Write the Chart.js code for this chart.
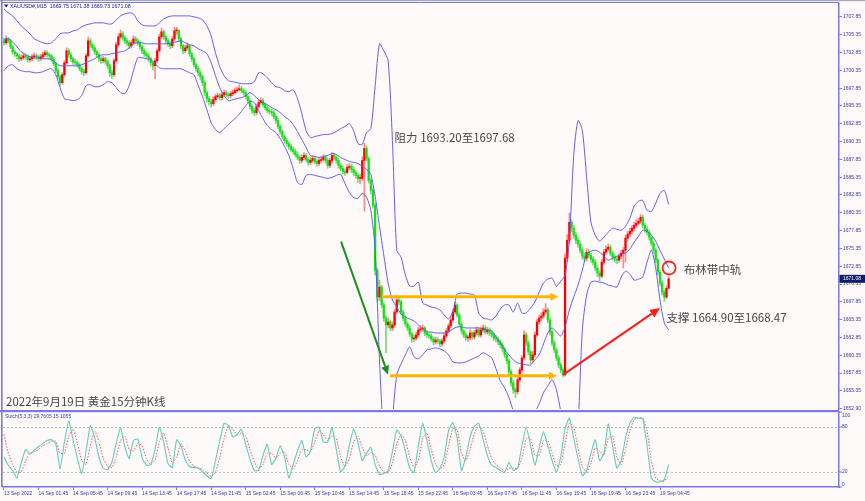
<!DOCTYPE html>
<html><head><meta charset="utf-8">
<script src="https://cdn.jsdelivr.net/npm/chart.js@4.4.1/dist/chart.umd.min.js"></script>
<style>
html,body{margin:0;padding:0;background:#fffafa;}
#wrap{position:relative;width:865px;height:501px;overflow:hidden;background:#fffafa;}
#main{position:absolute;left:0;top:0;width:865px;height:414px;}
#stoch{position:absolute;left:0;top:410px;width:865px;height:91px;}
</style></head><body>
<div id="wrap"><canvas id="main" width="865" height="414"></canvas><canvas id="stoch" width="865" height="91"></canvas></div>
<script>
// ---------------- DATA ----------------
const opens = [
1704.50,1704.22,1704.78,1704.50,1703.66,1702.96,1702.68,1702.40,1701.98,1702.12,
1702.40,1702.26,1701.84,1701.98,1702.26,1702.40,1702.26,1701.98,1702.26,1702.54,
1702.82,1702.54,1702.40,1701.98,1701.28,1700.30,1699.46,1698.62,1699.74,1701.42,
1703.10,1702.54,1701.98,1701.56,1701.42,1701.14,1700.58,1700.16,1700.02,1702.40,
1704.50,1703.94,1703.52,1702.96,1702.54,1701.98,1701.70,1701.98,1701.56,1701.00,
1700.02,1699.74,1701.70,1703.94,1705.06,1705.48,1704.92,1704.50,1704.22,1703.80,
1704.22,1704.78,1704.50,1704.22,1703.66,1703.10,1702.68,1702.40,1701.98,1701.42,
1701.00,1701.70,1703.10,1705.06,1705.76,1705.06,1704.50,1704.08,1703.80,1704.78,
1705.90,1705.90,1704.78,1703.80,1703.10,1703.52,1703.80,1702.68,1701.98,1701.14,
1700.58,1700.02,1699.46,1698.62,1697.22,1696.38,1695.96,1695.68,1696.24,1696.66,
1696.80,1696.52,1696.94,1697.22,1696.94,1696.80,1697.08,1697.22,1697.50,1697.64,
1697.78,1697.50,1697.22,1696.66,1696.10,1695.26,1694.70,1694.42,1695.26,1695.82,
1696.10,1695.54,1695.12,1694.70,1694.56,1694.42,1693.86,1693.30,1692.46,1691.76,
1691.06,1690.50,1690.08,1689.66,1689.24,1688.96,1688.54,1688.12,1687.70,1688.12,
1688.40,1687.84,1687.42,1687.70,1687.98,1687.56,1687.28,1687.70,1687.84,1688.12,
1687.70,1687.00,1687.70,1688.40,1688.12,1687.70,1687.00,1686.58,1686.16,1686.02,
1686.72,1686.86,1686.44,1686.02,1685.60,1685.18,1685.18,1687.70,1689.38,1687.98,
1684.90,1683.50,1681.40,1672.30,1668.52,1669.92,1667.40,1665.58,1664.60,1665.02,
1664.18,1664.60,1666.42,1668.10,1667.82,1666.42,1665.58,1664.74,1664.18,1663.34,
1662.64,1662.78,1663.20,1663.90,1664.04,1664.18,1663.48,1663.20,1663.06,1662.64,
1662.22,1662.50,1662.36,1661.94,1662.36,1663.06,1663.76,1664.46,1665.30,1666.42,
1667.40,1666.00,1664.74,1663.76,1663.20,1662.78,1662.78,1663.48,1662.92,1663.48,
1663.90,1663.20,1663.90,1664.18,1663.62,1663.90,1663.48,1663.20,1662.78,1662.64,
1662.22,1661.80,1661.24,1660.40,1659.56,1658.02,1656.48,1655.50,1655.22,1656.90,
1658.30,1659.98,1663.20,1662.08,1660.82,1659.70,1660.40,1663.20,1665.02,1665.58,
1665.86,1666.42,1666.70,1665.30,1663.62,1662.08,1661.10,1659.98,1659.00,1658.30,
1657.60,1673.98,1676.50,1679.02,1678.18,1677.20,1676.50,1675.94,1675.10,1674.26,
1673.98,1674.82,1674.40,1673.84,1673.42,1672.58,1671.88,1671.46,1673.42,1674.82,
1675.24,1675.52,1674.68,1674.12,1673.84,1673.70,1674.26,1674.68,1675.10,1676.78,
1677.34,1677.76,1678.18,1678.60,1678.88,1679.16,1679.72,1678.60,1678.04,1677.62,
1676.92,1676.08,1675.10,1673.70,1672.02,1670.48,1669.22,1668.52,1669.75];
const highs = [
1704.9,1705.2,1705.0,1704.7,1703.9,1703.2,1702.9,1702.6,1702.5,1702.8,
1702.7,1702.5,1702.3,1702.6,1702.8,1702.7,1702.5,1702.6,1702.9,1703.2,
1703.1,1702.8,1702.6,1702.2,1701.5,1700.6,1699.7,1700.0,1701.7,1703.5,
1703.4,1702.8,1702.2,1701.9,1701.7,1701.4,1700.9,1700.5,1702.7,1705.0,
1704.8,1704.2,1703.8,1703.2,1702.8,1702.3,1702.3,1702.2,1701.8,1701.2,
1700.4,1702.0,1704.3,1705.5,1706.0,1705.8,1705.2,1704.8,1704.5,1704.6,
1705.2,1705.1,1704.8,1704.5,1703.9,1703.4,1703.0,1702.7,1702.2,1701.7,
1702.0,1703.4,1705.4,1706.3,1706.0,1705.3,1704.8,1704.4,1705.1,1706.4,
1706.4,1706.1,1705.0,1704.0,1703.9,1704.2,1704.0,1702.9,1702.2,1701.4,
1700.9,1700.3,1699.7,1698.9,1697.5,1696.7,1696.3,1696.6,1697.0,1697.2,
1697.1,1697.3,1697.6,1697.5,1697.2,1697.4,1697.6,1697.9,1698.0,1698.3,
1698.1,1697.8,1697.5,1696.9,1696.4,1695.5,1695.0,1695.6,1696.2,1696.5,
1696.4,1695.8,1695.4,1695.0,1694.9,1694.7,1694.1,1693.6,1692.7,1692.0,
1691.3,1690.8,1690.4,1690.0,1689.6,1689.3,1688.9,1688.4,1688.5,1688.8,
1688.7,1688.1,1688.1,1688.4,1688.3,1687.9,1688.1,1688.2,1688.5,1688.4,
1688.0,1688.0,1688.8,1688.7,1688.4,1688.0,1687.3,1686.9,1686.5,1687.1,
1687.3,1687.2,1686.8,1686.3,1685.9,1685.8,1688.2,1690.1,1689.8,1688.2,
1685.2,1683.8,1681.7,1672.6,1670.9,1670.2,1667.7,1665.9,1665.6,1665.3,
1665.0,1666.8,1668.7,1668.5,1668.1,1666.7,1665.9,1665.0,1664.5,1663.6,
1663.2,1663.6,1664.3,1664.5,1664.6,1664.4,1663.8,1663.5,1663.4,1662.9,
1662.9,1662.8,1662.6,1662.7,1663.4,1664.1,1664.8,1665.6,1666.8,1667.9,
1667.6,1666.3,1665.0,1664.0,1663.5,1663.2,1663.9,1663.7,1663.8,1664.3,
1664.2,1664.3,1664.6,1664.5,1664.3,1664.2,1663.8,1663.5,1663.1,1662.9,
1662.5,1662.1,1661.5,1660.7,1659.8,1658.3,1656.8,1655.8,1657.2,1658.6,
1660.3,1663.8,1663.5,1662.4,1661.1,1660.9,1663.6,1665.4,1666.0,1666.3,
1666.9,1667.6,1667.0,1665.6,1663.9,1662.4,1661.4,1660.3,1659.3,1658.6,
1674.6,1677.3,1680.3,1679.4,1678.6,1677.6,1676.9,1676.3,1675.5,1674.7,
1675.3,1675.2,1674.7,1674.2,1673.8,1672.9,1672.2,1673.8,1675.2,1675.7,
1676.0,1675.8,1675.0,1674.5,1674.2,1674.6,1675.1,1675.5,1677.2,1677.7,
1678.2,1678.6,1679.0,1679.4,1679.6,1680.1,1680.0,1678.9,1678.4,1677.9,
1677.2,1676.4,1675.4,1674.0,1672.3,1670.8,1669.5,1670.1,1671.38];
const lows = [
1703.9,1704.0,1704.2,1703.4,1702.6,1702.3,1702.0,1701.6,1701.7,1701.9,
1701.9,1701.5,1701.5,1701.7,1702.0,1701.9,1701.6,1701.7,1702.0,1702.3,
1702.2,1702.0,1701.6,1701.0,1700.0,1699.1,1698.2,1698.4,1699.5,1701.2,
1702.2,1701.6,1701.2,1701.1,1700.8,1700.3,1699.8,1699.6,1699.8,1702.2,
1703.6,1703.2,1702.6,1702.2,1701.6,1701.3,1701.4,1701.2,1700.6,1699.5,
1699.2,1699.5,1701.5,1703.7,1704.8,1704.6,1704.1,1703.8,1703.4,1703.5,
1704.0,1704.2,1703.9,1703.3,1702.7,1702.3,1702.0,1701.6,1701.0,1700.4,
1699.2,1701.4,1702.9,1704.8,1704.7,1704.1,1703.7,1703.4,1703.5,1704.5,
1705.4,1704.4,1703.4,1702.7,1702.8,1703.2,1702.3,1701.6,1700.8,1700.2,
1699.6,1699.0,1698.2,1696.8,1695.9,1695.5,1695.2,1695.4,1696.0,1696.4,
1696.2,1696.2,1696.7,1696.6,1696.4,1696.5,1696.8,1697.0,1697.2,1697.4,
1697.2,1696.9,1696.3,1695.7,1694.9,1694.3,1694.0,1694.1,1695.0,1695.6,
1695.2,1694.8,1694.4,1694.2,1694.0,1693.5,1692.9,1692.1,1691.4,1690.7,
1690.1,1689.7,1689.3,1688.9,1688.6,1688.2,1687.8,1687.3,1687.4,1687.8,
1687.5,1687.0,1687.1,1687.4,1687.2,1686.9,1687.0,1687.4,1687.6,1687.3,
1686.6,1686.7,1687.4,1687.8,1687.3,1686.6,1686.2,1685.8,1685.6,1685.8,
1686.4,1686.0,1685.6,1685.2,1684.6,1684.4,1684.9,1680.6,1687.6,1684.5,
1683.0,1681.0,1671.6,1667.8,1668.0,1667.0,1665.1,1660.7,1664.2,1663.8,
1663.8,1664.3,1666.2,1667.4,1666.0,1665.2,1664.4,1663.8,1663.0,1662.2,
1662.3,1662.5,1662.9,1663.6,1663.7,1663.1,1662.8,1662.7,1662.3,1661.8,
1661.9,1662.0,1661.5,1661.6,1662.1,1662.8,1663.5,1664.2,1665.0,1666.1,
1665.7,1664.4,1663.4,1662.8,1662.4,1662.3,1662.5,1662.6,1662.6,1663.2,
1662.9,1662.9,1663.6,1663.3,1663.3,1663.1,1662.9,1662.4,1662.2,1661.8,
1661.4,1660.8,1660.0,1659.1,1657.6,1656.0,1655.0,1654.4,1654.9,1656.6,
1658.0,1659.7,1661.7,1660.4,1659.2,1659.4,1660.1,1662.9,1664.7,1665.2,
1665.5,1666.1,1664.9,1663.2,1661.7,1660.7,1659.6,1658.6,1657.9,1657.3,
1657.4,1673.5,1676.1,1677.7,1676.8,1676.0,1675.5,1674.7,1673.8,1673.5,
1673.6,1674.0,1673.4,1673.0,1672.2,1671.4,1670.8,1671.2,1673.1,1674.5,
1675.0,1674.3,1673.7,1673.4,1673.2,1673.4,1673.9,1672.6,1673.4,1676.4,
1677.0,1677.4,1677.8,1678.3,1678.6,1678.9,1678.2,1677.6,1677.2,1676.5,
1675.7,1674.7,1673.3,1671.6,1670.1,1668.8,1667.9,1668.3,1669.73];
const closes = [
1704.22,1704.78,1704.50,1703.66,1702.96,1702.68,1702.40,1701.98,1702.12,1702.40,
1702.26,1701.84,1701.98,1702.26,1702.40,1702.26,1701.98,1702.26,1702.54,1702.82,
1702.54,1702.40,1701.98,1701.28,1700.30,1699.46,1698.62,1699.74,1701.42,1703.10,
1702.54,1701.98,1701.56,1701.42,1701.14,1700.58,1700.16,1700.02,1702.40,1704.50,
1703.94,1703.52,1702.96,1702.54,1701.98,1701.70,1701.98,1701.56,1701.00,1700.02,
1699.74,1701.70,1703.94,1705.06,1705.48,1704.92,1704.50,1704.22,1703.80,1704.22,
1704.78,1704.50,1704.22,1703.66,1703.10,1702.68,1702.40,1701.98,1701.42,1701.00,
1701.70,1703.10,1705.06,1705.76,1705.06,1704.50,1704.08,1703.80,1704.78,1705.90,
1705.90,1704.78,1703.80,1703.10,1703.52,1703.80,1702.68,1701.98,1701.14,1700.58,
1700.02,1699.46,1698.62,1697.22,1696.38,1695.96,1695.68,1696.24,1696.66,1696.80,
1696.52,1696.94,1697.22,1696.94,1696.80,1697.08,1697.22,1697.50,1697.64,1697.78,
1697.50,1697.22,1696.66,1696.10,1695.26,1694.70,1694.42,1695.26,1695.82,1696.10,
1695.54,1695.12,1694.70,1694.56,1694.42,1693.86,1693.30,1692.46,1691.76,1691.06,
1690.50,1690.08,1689.66,1689.24,1688.96,1688.54,1688.12,1687.70,1688.12,1688.40,
1687.84,1687.42,1687.70,1687.98,1687.56,1687.28,1687.70,1687.84,1688.12,1687.70,
1687.00,1687.70,1688.40,1688.12,1687.70,1687.00,1686.58,1686.16,1686.02,1686.72,
1686.86,1686.44,1686.02,1685.60,1685.18,1685.18,1687.70,1689.38,1687.98,1684.90,
1683.50,1681.40,1672.30,1668.52,1669.92,1667.40,1665.58,1664.60,1665.02,1664.18,
1664.60,1666.42,1668.10,1667.82,1666.42,1665.58,1664.74,1664.18,1663.34,1662.64,
1662.78,1663.20,1663.90,1664.04,1664.18,1663.48,1663.20,1663.06,1662.64,1662.22,
1662.50,1662.36,1661.94,1662.36,1663.06,1663.76,1664.46,1665.30,1666.42,1667.40,
1666.00,1664.74,1663.76,1663.20,1662.78,1662.78,1663.48,1662.92,1663.48,1663.90,
1663.20,1663.90,1664.18,1663.62,1663.90,1663.48,1663.20,1662.78,1662.64,1662.22,
1661.80,1661.24,1660.40,1659.56,1658.02,1656.48,1655.50,1655.22,1656.90,1658.30,
1659.98,1663.20,1662.08,1660.82,1659.70,1660.40,1663.20,1665.02,1665.58,1665.86,
1666.42,1666.70,1665.30,1663.62,1662.08,1661.10,1659.98,1659.00,1658.30,1657.60,
1673.98,1676.50,1679.02,1678.18,1677.20,1676.50,1675.94,1675.10,1674.26,1673.98,
1674.82,1674.40,1673.84,1673.42,1672.58,1671.88,1671.46,1673.42,1674.82,1675.24,
1675.52,1674.68,1674.12,1673.84,1673.70,1674.26,1674.68,1675.10,1676.78,1677.34,
1677.76,1678.18,1678.60,1678.88,1679.16,1679.72,1678.60,1678.04,1677.62,1676.92,
1676.08,1675.10,1673.70,1672.02,1670.48,1669.22,1668.52,1669.75,1671.08];

// Bollinger lines, one reading every 2 bars
const upperBand = [
1708.98,1708.42,1708.0,1707.3,1706.6,1706.04,1705.48,1704.78,1704.5,1704.22,
1704.08,1704.22,1704.78,1705.48,1705.62,1705.62,1705.9,1706.04,1706.46,1706.74,
1706.88,1707.02,1707.02,1707.02,1706.88,1706.88,1707.44,1708.0,1708.28,1708.42,
1708.28,1707.3,1706.74,1706.6,1706.6,1706.6,1707.02,1707.58,1707.86,1708.0,
1708.0,1708.0,1708.0,1708.0,1707.86,1707.72,1707.44,1706.6,1705.2,1702.82,
1700.86,1699.6,1698.9,1698.76,1698.62,1698.48,1698.48,1698.48,1698.76,1700.02,
1699.88,1699.32,1698.62,1698.06,1697.92,1697.5,1697.36,1697.64,1696.38,1694.28,
1691.9,1690.92,1691.06,1691.2,1691.34,1691.34,1691.48,1691.76,1692.18,1692.46,
1692.88,1691.9,1690.08,1689.94,1691.62,1692.18,1698.2,1704.08,1703.1,1701.7,
1690.5,1675.1,1674.12,1671.6,1670.06,1670.06,1670.62,1667.68,1667.4,1667.12,
1666.98,1666.7,1666.0,1665.44,1666.42,1668.94,1669.08,1669.08,1668.94,1668.8,
1666.28,1665.58,1665.44,1665.3,1665.86,1666.84,1667.4,1667.4,1666.42,1667.68,
1666.28,1666.28,1666.98,1667.82,1669.22,1670.48,1671.04,1671.18,1670.06,1670.76,
1671.6,1676.5,1688.4,1693.3,1691.9,1685.32,1679.02,1677.2,1676.36,1676.92,
1677.62,1678.18,1678.04,1677.9,1678.46,1679.58,1681.26,1681.96,1682.1,1680.7,
1680.56,1681.68,1683.08,1683.5,1681.54];
const middleBand = [
1704.64,1704.78,1704.36,1703.66,1702.96,1702.54,1702.26,1702.12,1702.12,1701.98,
1701.98,1701.84,1701.42,1701.0,1701.0,1701.0,1701.0,1701.0,1701.14,1701.42,
1701.7,1701.98,1702.4,1702.54,1702.54,1702.68,1702.82,1702.96,1703.1,1703.52,
1704.08,1704.22,1704.22,1704.08,1704.08,1704.08,1704.08,1704.08,1704.08,1704.22,
1704.36,1704.5,1704.22,1703.94,1703.8,1703.38,1703.1,1702.68,1701.42,1699.6,
1697.92,1696.8,1696.1,1696.24,1696.38,1696.52,1696.8,1697.22,1696.8,1696.24,
1695.82,1695.54,1695.12,1694.84,1694.42,1693.86,1693.44,1692.74,1691.76,1690.64,
1689.52,1688.4,1688.26,1688.12,1688.26,1688.4,1688.68,1688.54,1688.12,1687.84,
1687.56,1687.42,1687.28,1686.86,1686.44,1685.74,1682.66,1678.46,1674.4,1670.48,
1668.1,1667.12,1666.14,1665.72,1665.44,1665.16,1664.6,1664.04,1663.62,1663.62,
1663.48,1663.48,1663.48,1663.62,1664.04,1664.32,1664.32,1664.18,1664.18,1664.18,
1664.18,1664.04,1663.9,1663.76,1662.92,1662.08,1661.1,1660.4,1659.7,1659.28,
1659.14,1659.0,1659.0,1659.7,1660.4,1661.94,1663.48,1664.18,1663.62,1663.06,
1664.32,1666.7,1668.52,1670.2,1672.3,1674.54,1674.96,1675.1,1674.82,1674.26,
1673.7,1673.98,1674.26,1674.54,1674.68,1675.24,1676.22,1677.06,1677.9,1677.76,
1677.2,1676.36,1675.1,1673.84,1672.58];
const lowerBand = [
1700.3,1701.0,1701.14,1700.58,1700.3,1700.16,1700.16,1700.02,1700.02,1700.16,
1700.44,1700.58,1699.74,1697.92,1696.38,1696.24,1696.1,1696.24,1696.8,1698.2,
1698.34,1698.06,1698.06,1698.34,1698.76,1698.62,1697.92,1697.22,1697.08,1698.2,
1700.3,1702.12,1702.12,1701.98,1701.84,1701.28,1700.72,1700.58,1700.58,1700.58,
1700.58,1700.58,1700.3,1700.02,1699.74,1698.2,1696.66,1694.84,1693.02,1692.04,
1691.62,1692.18,1692.74,1693.3,1693.86,1694.56,1695.4,1695.96,1695.82,1694.7,
1693.58,1692.6,1692.04,1691.62,1690.78,1689.66,1688.4,1686.58,1684.62,1684.34,
1685.6,1685.74,1685.6,1685.46,1685.32,1685.18,1685.32,1685.6,1685.74,1684.48,
1683.22,1682.52,1682.38,1683.08,1682.52,1680.7,1675.1,1659.7,1648.5,1644.3,
1651.3,1657.6,1659.14,1660.4,1661.52,1660.12,1659.84,1660.4,1661.1,1661.24,
1661.38,1661.24,1660.96,1660.4,1659.42,1659.28,1659.28,1659.42,1659.7,1659.98,
1660.26,1660.68,1660.4,1659.98,1658.44,1656.76,1655.78,1654.38,1652.56,1651.02,
1650.6,1650.88,1651.3,1652.28,1653.54,1655.08,1656.06,1656.9,1655.5,1652.42,
1648.5,1640.8,1641.5,1649.9,1663.9,1668.8,1670.62,1670.76,1670.62,1670.48,
1670.2,1670.06,1669.92,1671.32,1672.16,1671.74,1670.9,1671.04,1671.32,1673.42,
1675.1,1672.58,1668.1,1664.88,1663.9];

// Stochastic (5,3,3), one reading every 2 bars
const stochK = [
40,29,22,12,32,50,44,49,54,58, 62,63,58,24,60,88,63,38,18,47,
82,66,40,25,23,33,58,79,53,38, 62,64,39,29,30,50,80,60,31,26,
63,55,36,27,26,25,20,15,11,35, 62,85,82,67,70,77,57,37,22,22,
42,57,30,38,55,40,12,30,48,62, 40,48,78,80,60,60,79,50,20,28,
55,77,60,35,45,53,30,17,18,22, 47,76,68,48,25,19,55,85,62,35,
19,25,40,75,86,65,22,40,67,81, 85,64,42,29,26,22,19,33,22,25,
55,80,55,29,52,74,55,35,20,40, 78,92,65,38,15,22,45,63,35,45,
84,55,25,35,65,85,93,92,91,55, 12,7,7,10,29.76];
const stochD = [
70,45,30,20,20,35,45,47,50,55, 58,61,61,45,45,68,77,58,36,30,
55,75,60,38,27,26,40,62,68,50, 48,58,55,38,30,36,60,72,52,32,
40,58,48,34,28,26,23,19,14,20, 40,65,82,77,70,72,68,50,33,24,
30,45,45,38,45,47,30,25,35,50, 50,47,60,75,70,62,68,64,40,27,
38,60,68,52,42,46,42,28,20,19, 32,58,70,62,40,26,35,65,72,50,
30,24,30,55,78,76,45,35,50,72, 82,75,55,38,30,25,21,25,25,25,
38,65,65,42,42,62,62,45,28,30, 58,85,80,52,27,20,32,52,48,42,
65,68,40,30,50,75,90,92,92,75, 35,12,8,8,15.1];

const priceTicks = [1707.85,1705.35,1702.85,1700.35,1697.85,1695.35,1692.85,1690.35,1687.85,1685.35,1682.85,1680.35,1677.85,1675.35,1672.85,1670.35,1667.85,1665.35,1662.85,1660.35,1657.85,1655.35,1652.90];
const timeLabels = ['13 Sep 2022','14 Sep 01:45','14 Sep 05:45','14 Sep 09:45','14 Sep 13:45','14 Sep 17:45','14 Sep 21:45','15 Sep 02:45','15 Sep 06:45','15 Sep 10:45','15 Sep 14:45','15 Sep 18:45','15 Sep 22:45','16 Sep 03:45','16 Sep 07:45','16 Sep 11:45','16 Sep 15:45','16 Sep 19:45','16 Sep 23:45','19 Sep 04:45'];
const stochLevels = [100,80,20,0];

// ---------------- LAYOUT / STYLE ----------------
const SAMPLE_STEP = 2;      // bars between band / stoch readings
const LABEL_EVERY = 16;     // bars between time labels
const X_MIN = -0.46, X_MAX = 386.94;
const Y_MIN = 1652.8, Y_MAX = 1709.67;
const AXIS = '#7878e6', TXT = '#3838b0', BAND = 'rgba(88,88,238,0.95)';
const UP = '#ff0000', DOWN = '#14e014';
const CJK = '"Noto Sans CJK SC","Noto Sans CJK JP",sans-serif';

const notes = {
  resist: {bar:181, price:1690.9, text:'阻力 1693.20至1697.68'},
  mid:    {bar:315, price:1672.4, text:'布林带中轨'},
  support:{bar:307, price:1665.7, text:'支撑 1664.90至1668.47'},
  circle: {bar:308.2, price:1672.6},
  green:  {from:[156.2,1676.3], to:[178,1657.6]},
  orangeTop:{from:[175,1668.55], to:[256.9,1668.55]},
  orangeBot:{from:[178.9,1657.46], to:[256.2,1657.46]},
  red:    {from:[259,1657.6], to:[304,1666.98]}
};
const title = '2022年9月19日 黄金15分钟K线';
const header = 'XAUUSD#,M15  1669.75 1671.38 1669.73 1671.08';
const stochHeader = 'Stoch(5,3,3) 29.7605 15.1055';

Chart.defaults.font.family = '"Liberation Sans", Arial, sans-serif';

const isUp = closes.map((c,i)=>c>=opens[i]);
const wickData = closes.map((c,i)=>({x:i, y:[lows[i], highs[i]]}));
const bodyData = closes.map((c,i)=>({x:i, y:[opens[i], c]}));
const sampled = arr => arr.map((v,j)=>({x:j*SAMPLE_STEP, y:v}));

function arrow(ctx,x1,y1,x2,y2,color,lw,hl,hw){
  const a=Math.atan2(y2-y1,x2-x1);
  const bx=x2-hl*Math.cos(a), by=y2-hl*Math.sin(a);
  ctx.save(); ctx.strokeStyle=color; ctx.fillStyle=color; ctx.lineWidth=lw; ctx.lineCap='butt';
  ctx.beginPath(); ctx.moveTo(x1,y1); ctx.lineTo(bx,by); ctx.stroke();
  ctx.beginPath(); ctx.moveTo(x2,y2);
  ctx.lineTo(bx+hw*Math.sin(a), by-hw*Math.cos(a));
  ctx.lineTo(bx-hw*Math.sin(a), by+hw*Math.cos(a));
  ctx.closePath(); ctx.fill(); ctx.restore();
}

const mainDecor = {
  id:'mainDecor',
  afterDatasetsDraw(chart){
    const ctx=chart.ctx, xs=chart.scales.x, ys=chart.scales.y;
    const P=(b,p)=>[xs.getPixelForValue(b), ys.getPixelForValue(p)];
    const seg=(o,c,lw,hl,hw)=>{const a=P(...o.from), b=P(...o.to); arrow(ctx,a[0],a[1],b[0],b[1],c,lw,hl,hw);};
    seg(notes.orangeTop,'#ffb400',3,8,4);
    seg(notes.orangeBot,'#ffb400',3,8,4);
    seg(notes.green,'#1c8f1c',2,9,4);
    seg(notes.red,'#ff1c1c',2,10,4.5);
    const c=P(notes.circle.bar, notes.circle.price);
    ctx.save(); ctx.strokeStyle='#ff2020'; ctx.lineWidth=1.8;
    ctx.beginPath(); ctx.arc(c[0],c[1],6.5,0,Math.PI*2); ctx.stroke(); ctx.restore();
    ctx.save(); ctx.font='11.5px '+CJK; ctx.fillStyle='#464646'; ctx.textBaseline='middle'; ctx.textAlign='left';
    for (const k of ['resist','mid','support']) { const n=notes[k]; const p=P(n.bar,n.price); ctx.fillText(n.text,p[0],p[1]); }
    ctx.fillText(title, chart.chartArea.left+3, chart.chartArea.bottom-7);
    ctx.restore();
  },
  afterDraw(chart){
    const ctx=chart.ctx, a=chart.chartArea, ys=chart.scales.y;
    ctx.save();
    ctx.fillStyle='#a8a8bc'; ctx.fillRect(0,0,chart.width,1.2);
    ctx.strokeStyle=AXIS; ctx.lineWidth=1;
    ctx.beginPath(); ctx.moveTo(2,2.5); ctx.lineTo(a.right,2.5); ctx.stroke();
    ctx.lineWidth=1.6; ctx.beginPath(); ctx.moveTo(1.8,0); ctx.lineTo(1.8,410); ctx.stroke();
    // header
    ctx.fillStyle='#1a2a8c';
    ctx.beginPath(); ctx.moveTo(4,4.5); ctx.lineTo(8.5,4.5); ctx.lineTo(6.25,7.5); ctx.closePath(); ctx.fill();
    ctx.font='5.3px "Liberation Sans", Arial'; ctx.textBaseline='middle'; ctx.textAlign='left';
    ctx.fillText(header,10,6.3);
    // last price box
    const last=closes[closes.length-1], y=ys.getPixelForValue(last);
    ctx.fillStyle='#0c1d6a'; ctx.fillRect(a.right+0.5,y-4,chart.width-a.right,8);
    ctx.fillStyle='#ffffff'; ctx.font='5px "Liberation Sans", Arial'; ctx.fillText(last.toFixed(2),a.right+4,y+0.3);
    ctx.restore();
  }
};

new Chart(document.getElementById('main'), {
  type:'bar',
  data:{ datasets:[
    {type:'line', data:sampled(upperBand), borderColor:BAND, borderWidth:1, pointRadius:0, tension:0.25, order:0},
    {type:'line', data:sampled(middleBand), borderColor:BAND, borderWidth:1, pointRadius:0, tension:0.25, order:0},
    {type:'line', data:sampled(lowerBand), borderColor:BAND, borderWidth:1, pointRadius:0, tension:0.25, order:0},
    {type:'bar', data:bodyData, grouped:false, barThickness:1.6, minBarLength:1, borderWidth:0, borderSkipped:false,
      backgroundColor:isUp.map(u=>u?UP:DOWN), order:1},
    {type:'bar', data:wickData, grouped:false, barThickness:1, borderWidth:0, borderSkipped:false,
      backgroundColor:isUp.map(u=>u?'rgba(255,60,60,0.6)':'rgba(30,200,30,0.6)'), order:2}
  ]},
  options:{
    responsive:false, animation:false, events:[],
    layout:{padding:{left:3, top:3, right:0, bottom:5}},
    plugins:{legend:{display:false}, tooltip:{enabled:false}},
    scales:{
      x:{type:'linear', display:false, min:X_MIN, max:X_MAX, offset:false},
      y:{position:'right', min:Y_MIN, max:Y_MAX,
        afterBuildTicks:s=>{ s.ticks = priceTicks.map(v=>({value:v})); },
        afterFit:s=>{ s.width = 26; },
        ticks:{autoSkip:false, padding:1, color:TXT, font:{size:5}, callback:v=>Number(v).toFixed(2)},
        grid:{drawOnChartArea:false, drawTicks:true, tickLength:3, color:AXIS},
        border:{display:true, color:AXIS, width:1.5}}
    }
  },
  plugins:[mainDecor]
});

const stochDecor = {
  id:'stochDecor',
  beforeDatasetsDraw(chart){
    const ctx=chart.ctx, a=chart.chartArea, ys=chart.scales.y;
    ctx.save(); ctx.strokeStyle='#bdbdbd'; ctx.lineWidth=1; ctx.setLineDash([2,2]);
    for (const v of [80,20]) { const y=Math.round(ys.getPixelForValue(v))+0.5; ctx.beginPath(); ctx.moveTo(a.left,y); ctx.lineTo(a.right,y); ctx.stroke(); }
    ctx.restore();
  },
  afterDraw(chart){
    const ctx=chart.ctx, a=chart.chartArea, ys=chart.scales.y;
    ctx.save();
    ctx.fillStyle=AXIS; ctx.fillRect(0,0,a.right,2.2);
    ctx.strokeStyle=AXIS; ctx.lineWidth=1.6; ctx.beginPath(); ctx.moveTo(1.8,0); ctx.lineTo(1.8,a.bottom); ctx.stroke();
    ctx.font='5px "Liberation Sans", Arial'; ctx.textBaseline='middle'; ctx.textAlign='left'; ctx.fillStyle=TXT;
    ctx.lineWidth=1;
    for (const v of stochLevels) {
      const y=ys.getPixelForValue(v);
      const ty=Math.min(Math.max(y, a.top+3.5), a.bottom-2.5);
      ctx.beginPath(); ctx.moveTo(a.right, y); ctx.lineTo(a.right+3, y); ctx.stroke();
      ctx.fillText(String(v), a.right+3, ty);
    }
    ctx.fillStyle='#3a3ad0'; ctx.fillText(stochHeader, 5, 6.5);
    ctx.restore();
  }
};

new Chart(document.getElementById('stoch'), {
  type:'line',
  data:{ datasets:[
    {data:sampled(stochK), borderColor:'#62cbbd', borderWidth:1.1, pointRadius:0, tension:0.15},
    {data:sampled(stochD), borderColor:'#ff5050', borderWidth:1, borderDash:[1.5,1.5], pointRadius:0, tension:0.15}
  ]},
  options:{
    responsive:false, animation:false, events:[],
    layout:{padding:{left:3, top:2, right:0, bottom:0}},
    plugins:{legend:{display:false}, tooltip:{enabled:false}},
    scales:{
      x:{type:'linear', min:X_MIN, max:X_MAX, offset:false,
        afterBuildTicks:s=>{ s.ticks = timeLabels.map((t,k)=>({value:k*LABEL_EVERY})); },
        afterFit:s=>{ s.height = 14; },
        ticks:{autoSkip:false, maxRotation:0, minRotation:0, align:'start', padding:1, color:TXT, font:{size:5},
          callback:(v,i)=>timeLabels[i]},
        grid:{drawOnChartArea:false, drawTicks:true, tickLength:3, color:AXIS},
        border:{display:true, color:AXIS, width:1.5}},
      y:{position:'right', min:0, max:100,
        afterFit:s=>{ s.width = 26; },
        ticks:{display:false},
        grid:{drawOnChartArea:false, drawTicks:false},
        border:{display:true, color:AXIS, width:1.5}}
    }
  },
  plugins:[stochDecor]
});
</script></body></html>
